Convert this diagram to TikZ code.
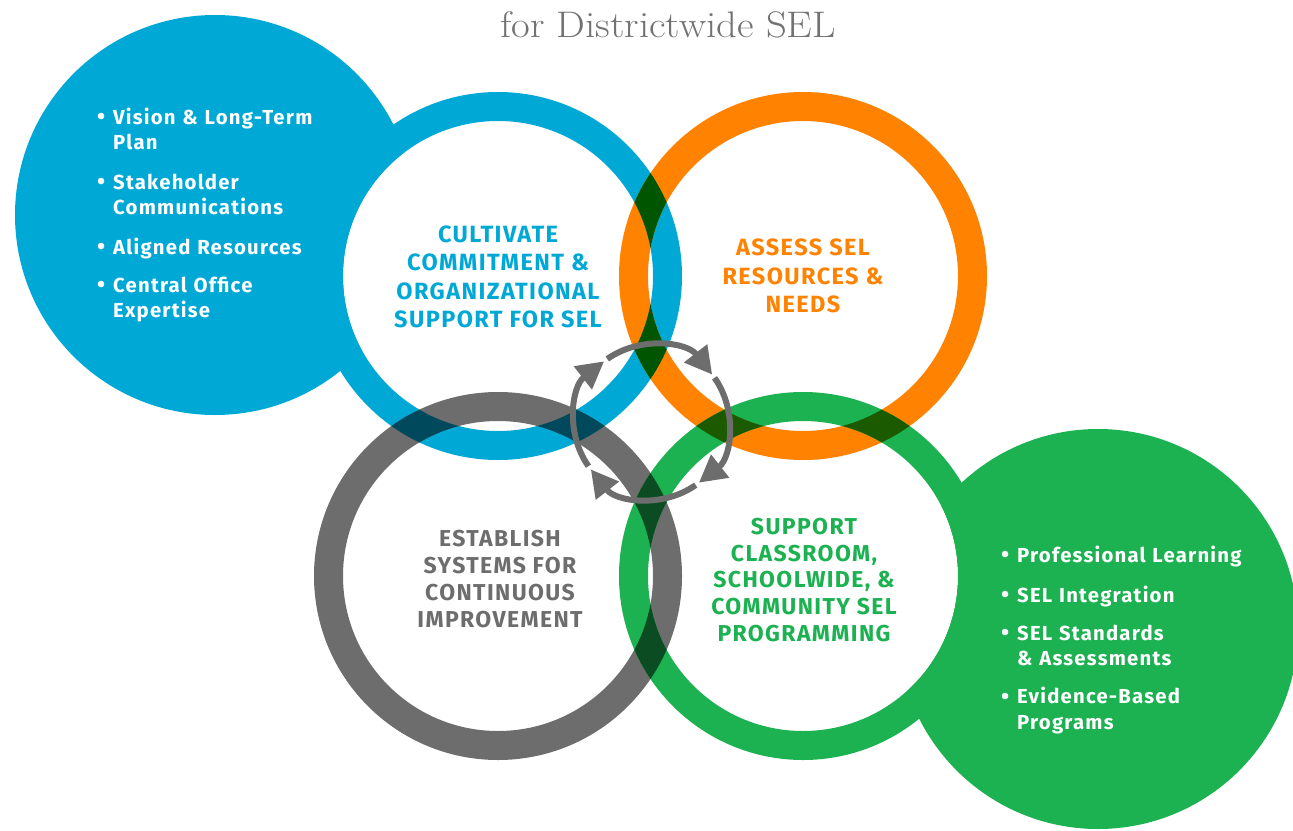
\documentclass[tikz,border=0pt]{standalone}
\usepackage{fontspec}
\setsansfont{Fira Sans}[LetterSpace=6.0]
\usetikzlibrary{shapes.geometric,arrows.meta,fit,positioning}
\definecolor{selblue}{HTML}{00A8D6}
\definecolor{selorange}{HTML}{FF8200}
\definecolor{selgray}{HTML}{6D6D6D}
\definecolor{selgreen}{HTML}{1CB151}
\definecolor{titlegray}{HTML}{727272}
% overlap colours (product of the two ring colours)
\definecolor{ovBO}{HTML}{005600}
\definecolor{ovBG}{HTML}{00485B}
\definecolor{ovOG}{HTML}{1C5A00}
\definecolor{ovGG}{HTML}{0C4C23}
\newcommand{\bul}{\makebox[16pt][l]{\raisebox{-0.5pt}{\scalebox{1.15}{\textbullet}}}}
\newcommand{\ind}{\hspace*{16pt}}

\begin{document}
\begin{tikzpicture}[x=1pt,y=-1pt]
\tikzstyle{ring}=[line width=29pt]
\tikzstyle{hole}=[fill=white]
\tikzstyle{label}=[align=center,inner sep=0pt,
font=\sffamily\bfseries\fontsize{23.5}{28.5}\selectfont]
\tikzstyle{smalllabel}=[align=center,inner sep=0pt,
font=\sffamily\bfseries\fontsize{23}{26.7}\selectfont]
\tikzstyle{list}=[align=left,anchor=base west,inner sep=0pt,text width=280pt,
text=white,font=\sffamily\bfseries\fontsize{20.3}{25.5}\selectfont]
\tikzstyle{cycle}=[line width=6pt,draw=selgray,
-{Triangle[length=27pt,width=28pt]}]

\useasboundingbox (0,0) rectangle (1293,830);
\clip (0,0) rectangle (1293,830);

\coordinate (cult) at (498,276);
\coordinate (assess) at (803,276);
\coordinate (estab) at (498,576);
\coordinate (supp) at (803,576);
\coordinate (cyc) at (651.5,422);

% big discs
\fill[selblue] (215,215) circle (200pt);
\fill[selgreen] (1098,629) circle (200pt);

% white insides of the rings
\foreach \c in {cult,assess,estab,supp}
  \fill[hole] (\c) circle (155pt);

% rings
\draw[ring,selblue] (cult) circle (169.5pt);
\draw[ring,selorange] (assess) circle (169.5pt);
\draw[ring,selgray] (estab) circle (169.5pt);
\draw[ring,selgreen] (supp) circle (169.5pt);

% overlaps
\foreach \a/\b/\col in {cult/assess/ovBO,cult/estab/ovBG,assess/supp/ovOG,estab/supp/ovGG}{
  \begin{scope}[even odd rule]
    \clip (\a) circle (184pt) (\a) circle (155pt);
    \draw[ring,\col] (\b) circle (169.5pt);
  \end{scope}
}

% cycle arrows
\foreach \s in {125,35,-55,-145}
  \draw[cycle] ([shift={(\s:77pt)}]cyc) arc[start angle=\s,end angle=\s-87,radius=77pt];

% title
\node[anchor=base,text=titlegray,font=\fontsize{37}{42}\selectfont,xscale=1.1] at (668,37) (title) {for Districtwide SEL};

% ring labels
\node[label,text=selblue] at (498,277) (cultlbl) {CULTIVATE\\COMMITMENT \&\\ORGANIZATIONAL\\SUPPORT FOR SEL};
\node[label,text=selorange] at (803,276) (assesslbl) {ASSESS SEL\\RESOURCES \&\\NEEDS};
\node[smalllabel,text=selgray] at (500,579) (establbl) {ESTABLISH\\SYSTEMS FOR\\CONTINUOUS\\IMPROVEMENT};
\node[smalllabel,text=selgreen] at (804,580) (supplbl) {SUPPORT\\CLASSROOM,\\SCHOOLWIDE, \&\\COMMUNITY SEL\\PROGRAMMING};

% bullet lists
\node[list] at (97,124) (cultlist) {\bul Vision \& Long-Term\\\ind Plan\\[14pt]
\bul Stakeholder\\\ind Communications\\[14pt]
\bul Aligned Resources\\[12.5pt]
\bul Central Office\\\ind Expertise};
\node[list] at (1001,562) (supplist) {\bul Professional Learning\\[14.5pt]
\bul SEL Integration\\[12.5pt]
\bul SEL Standards\\\ind \& Assessments\\[12.5pt]
\bul Evidence-Based\\\ind Programs};

\end{tikzpicture}
\end{document}
